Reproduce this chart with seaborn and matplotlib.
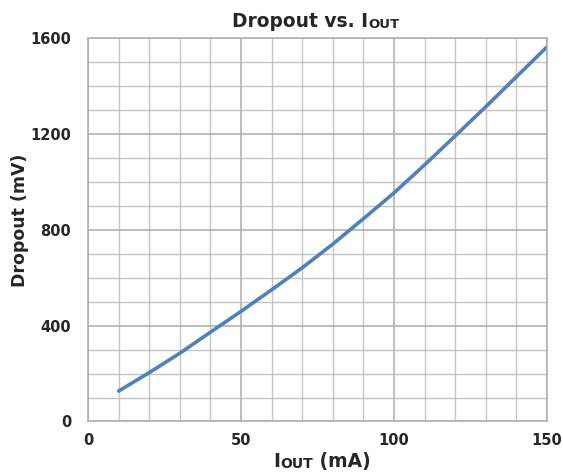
import matplotlib
matplotlib.use("Agg")
import matplotlib.pyplot as plt
import seaborn as sns
import pandas as pd
import numpy as np

iout_ma = [10, 20, 30, 40, 50, 60, 70, 80, 90, 100, 110, 120, 130, 140, 150]
dropout_mv = [127, 204, 285, 373, 460, 550, 642, 741, 847, 955, 1072, 1193, 1315, 1440, 1565]
x_ticks = [0, 50, 100, 150]
y_ticks = [0, 400, 800, 1200, 1600]

sns.set_theme(style="white")
plt.rcParams['font.family'] = ['DejaVu Sans']

df = pd.DataFrame({"iout": iout_ma, "dropout": dropout_mv})

fig = plt.figure(figsize=(5.63, 4.74), dpi=100)
ax = fig.add_axes([0.1563, 0.1108, 0.9716 - 0.1563, 0.9188 - 0.1108])

sns.lineplot(data=df, x="iout", y="dropout", ax=ax, color="#4f81bd", linewidth=2.6)

txt = "#262626"
ax.set_xlim(0, 150)
ax.set_ylim(0, 1600)
ax.set_xticks(x_ticks)
ax.set_yticks(y_ticks)
ax.set_xticks(np.arange(0, 151, 10), minor=True)
ax.set_yticks(np.arange(0, 1601, 100), minor=True)
ax.grid(which="minor", color="#c4c4c4", linewidth=1.0)
ax.grid(which="major", color="#b0b0b0", linewidth=1.2)
ax.set_axisbelow(True)
ax.tick_params(which="both", length=0)
ax.tick_params(axis="y", pad=12, labelsize=10.5)
ax.tick_params(axis="x", pad=8, labelsize=10.5)
for lbl in ax.get_xticklabels() + ax.get_yticklabels():
    lbl.set_fontweight("bold")
    lbl.set_color(txt)
for s in ax.spines.values():
    s.set_color("#b0b0b0")
    s.set_linewidth(1.2)

ax.set_xlabel("")
ax.set_ylabel("Dropout (mV)", fontsize=12.5, fontweight="bold", color=txt, va="center")
ax.yaxis.set_label_coords(-0.148, 0.526)

# Title with small-caps OUT
t1 = fig.text(232 / 563, 1 - 27 / 474, "Dropout vs. I", fontsize=13.4, fontweight="bold",
              color=txt, ha="left", va="baseline")
ax.annotate("OUT", xy=(1, 0), xycoords=t1, fontsize=9.5, fontweight="bold",
            color=txt, ha="left", va="bottom")

# X label with small-caps OUT
x1 = fig.text(273 / 563, 1 - 467 / 474, "I", fontsize=13.5, fontweight="bold",
              color=txt, ha="left", va="baseline")
a1 = ax.annotate("OUT", xy=(1, 0), xycoords=x1, fontsize=10, fontweight="bold",
                 color=txt, ha="left", va="bottom")
ax.annotate(" (mA)", xy=(1, 0), xycoords=a1, fontsize=13.5, fontweight="bold",
            color=txt, ha="left", va="bottom")

fig.savefig("out.png", dpi=100)
